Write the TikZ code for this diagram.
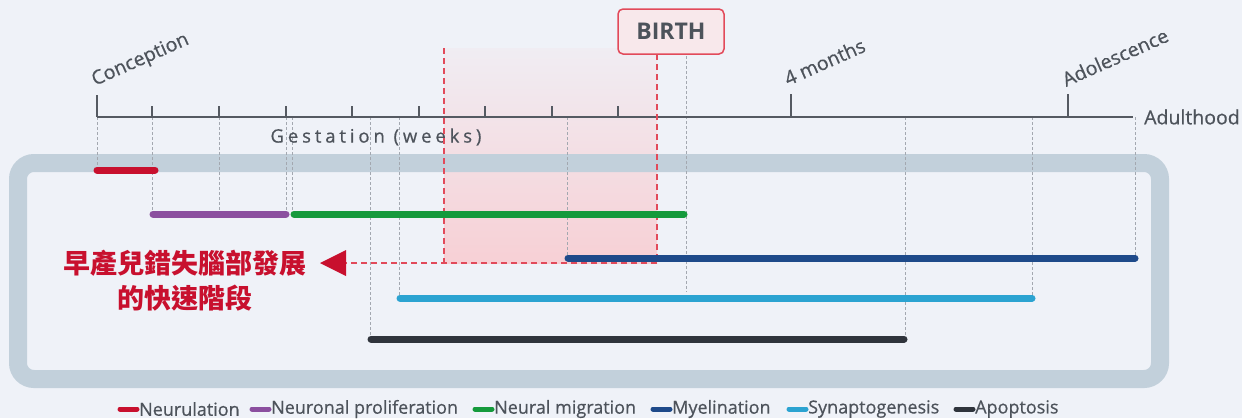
\documentclass[tikz,border=0pt]{standalone}
\usepackage{fontspec}
\setmainfont{Open Sans}
\newfontfamily\medfont{Open Sans}[FakeBold=0.6]
\newfontfamily\cjk{Noto Sans CJK TC}
\definecolor{bgc}{HTML}{EFF2F8}
\definecolor{framec}{HTML}{C2D0DB}
\definecolor{txtc}{HTML}{4D535B}
\definecolor{axisc}{HTML}{555A62}
\definecolor{guidec}{HTML}{A3A8B0}
\definecolor{redc}{HTML}{C8102E}
\definecolor{purplec}{HTML}{8B4F9F}
\definecolor{greenc}{HTML}{159A3C}
\definecolor{navyc}{HTML}{1E4A8A}
\definecolor{cyanc}{HTML}{2BA3D1}
\definecolor{darkc}{HTML}{2F343C}
\definecolor{dashredc}{HTML}{E24A5A}
\definecolor{pinkc}{HTML}{F7D0D5}
\definecolor{birthfill}{HTML}{F8E8EB}
\begin{document}
\begin{tikzpicture}[x=1pt,y=-1pt,
  axisline/.style={axisc,line width=2.4pt},
  tickline/.style={axisc,line width=2pt},
  guide/.style={guidec,line width=0.8pt,dash pattern=on 3pt off 2pt},
  reddash/.style={dashredc,line width=1.8pt,dash pattern=on 6pt off 4pt},
  bar/.style={line width=7pt,line cap=round},
  legbar/.style={line width=5pt,line cap=round},
  milestone/.style={rotate=24,anchor=base west,inner sep=0pt,font=\medfont\fontsize{19.5}{22}\selectfont,text=txtc},
  legtext/.style={anchor=west,inner sep=0pt,font=\medfont\fontsize{18}{20}\selectfont,text=txtc},
]
\useasboundingbox (0,0) rectangle (1242,418);
\fill[bgc] (0,0) rectangle (1242,418);

% pink zone
\coordinate (pzTL) at (444,48);
\coordinate (pzBR) at (657,263);
\shade[top color=bgc!85!pinkc, bottom color=pinkc] (pzTL) rectangle (pzBR);

% frame
\draw[framec,line width=18pt,rounded corners=16pt] (18,163) rectangle (1160,379);

% guide lines
\foreach \x/\ya/\yb in {97/117/170, 152/117/214, 219/117/214, 286/117/214, 292/117/214,
  370/117/339, 399/117/298, 567/117/258, 686/56/292, 905/117/339, 1032/117/298, 1135/117/258}{
  \coordinate (ga\x) at (\x,\ya);
  \coordinate (gb\x) at (\x,\yb);
  \draw[guide] (ga\x) -- (gb\x);
}

% axis
\coordinate (ax0) at (97,117);
\coordinate (ax1) at (1133,117);
\draw[axisline] (ax0) -- (ax1);
\foreach \x in {152,219,286,352,419,485,552,618}{
  \coordinate (tt\x) at (\x,106);
  \coordinate (tb\x) at (\x,117);
  \draw[tickline] (tt\x) -- (tb\x);
}
\coordinate (tcon) at (97,95);
\coordinate (t4m) at (791,94);
\coordinate (tado) at (1068,94);
\draw[tickline] (tcon) -- (ax0);
\draw[tickline] (t4m) -- (791,117);
\draw[tickline] (tado) -- (1068,117);

\node[milestone] (conception) at (95,86) {Conception};
\node[milestone] (fourmonths) at (788,86) {4 months};
\node[milestone] (adolescence) at (1066,87) {Adolescence};
\node[anchor=west,inner sep=0pt,font=\medfont\fontsize{19.5}{22}\selectfont,text=txtc] (adulthood) at (1144,117) {Adulthood};
\node[inner sep=0pt,font=\medfont\fontsize{18.5}{20}\selectfont\addfontfeatures{LetterSpace=21},text=txtc] (gestation) at (376,137) {Gestation (weeks)};

% red dashed lines
\coordinate (rdA) at (444,48);
\coordinate (rdB) at (444,263);
\coordinate (rdC) at (657,54);
\coordinate (rdD) at (657,263);
\coordinate (rdE) at (346,263);
\draw[reddash] (rdA) -- (rdB);
\draw[reddash] (rdC) -- (rdD);
\draw[reddash] (rdD) -- (rdE);

% birth box
\node[draw=dashredc,line width=1.5pt,fill=birthfill,rounded corners=5pt,minimum width=106pt,minimum height=45pt,inner sep=0pt,font=\fontsize{23}{26}\selectfont\bfseries,text=txtc] (birth) at (671,31.5) {BIRTH};

% bars
\coordinate (b1a) at (97,170);  \coordinate (b1b) at (155,170);
\coordinate (b2a) at (153,214); \coordinate (b2b) at (286,214);
\coordinate (b3a) at (294,214); \coordinate (b3b) at (684,214);
\coordinate (b4a) at (568,258); \coordinate (b4b) at (1135,258);
\coordinate (b5a) at (400,298); \coordinate (b5b) at (1032,298);
\coordinate (b6a) at (371,339); \coordinate (b6b) at (904,339);
\draw[bar,redc] (b1a) -- (b1b);
\draw[bar,purplec] (b2a) -- (b2b);
\draw[bar,greenc] (b3a) -- (b3b);
\draw[bar,navyc] (b4a) -- (b4b);
\draw[bar,cyanc] (b5a) -- (b5b);
\draw[bar,darkc] (b6a) -- (b6b);

% arrow and chinese text
\coordinate (arT) at (320,263);
\coordinate (arU) at (346,250);
\coordinate (arL) at (346,276);
\fill[redc] (arT) -- (arU) -- (arL) -- cycle;
\node[align=center,inner sep=0pt,font=\cjk\bfseries\fontsize{27}{35}\selectfont,text=redc] (note) at (185,281) {早產兒錯失腦部發展\\的快速階段};

% legend
\foreach \xa/\col/\lab/\nm in {120/redc/Neurulation/l1, 252/purplec/Neuronal proliferation/l2, 475/greenc/Neural migration/l3, 653/navyc/Myelination/l4, 789/cyanc/Synaptogenesis/l5, 956/darkc/Apoptosis/l6}{
  \coordinate (\nm a) at (\xa,409);
  \coordinate (\nm b) at (\xa+17,409);
  \draw[legbar,\col] (\nm a) -- (\nm b);
  \node[legtext] (\nm t) at (\xa+19,409) {\lab};
}
\end{tikzpicture}
\end{document}
